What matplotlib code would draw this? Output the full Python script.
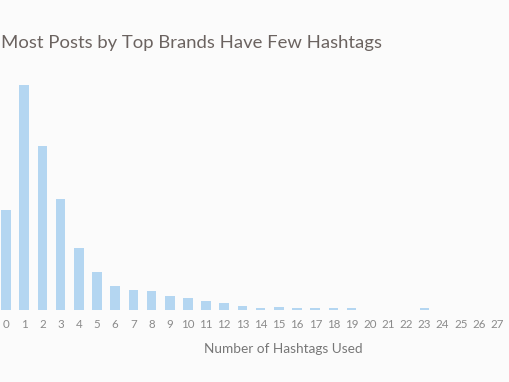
import matplotlib
matplotlib.use("Agg")
import matplotlib.pyplot as plt

# number of hashtags per post (0..27) and how many posts used that many
hashtags = list(range(28))
posts = [100, 225, 164, 111, 62, 38, 24, 20, 19, 14, 12, 9, 7, 4,
         2, 3.5, 2, 2, 2, 2, 0, 0, 0, 2, 0, 0, 0, 0]
tick_labels = [str(h) for h in hashtags]

title = "Most Posts by Top Brands Have Few Hashtags"
xlabel = "Number of Hashtags Used"

plt.rcParams['font.family'] = ['Lato', 'DejaVu Sans']

bg = "#fbfbfb"
fig = plt.figure(figsize=(5.1, 3.82), dpi=100, facecolor=bg)
ax = fig.add_axes([0.0, 0.188, 1.0, 0.654])
ax.set_facecolor(bg)

ax.bar(hashtags, posts, width=0.53, color="#b4d6f1", edgecolor="none")

ax.set_xlim(-0.33, 27.71)
ax.set_ylim(0, 250)
ax.set_xticks(hashtags)
ax.set_xticklabels(tick_labels)
ax.set_yticks([])
ax.tick_params(axis='x', length=0, pad=6, labelsize=8.3, labelcolor="#8a8a8a")
for s in ax.spines.values():
    s.set_visible(False)

fig.text(0.002, 0.887, title, fontsize=13.3, color="#6b6360",
         ha="left", va="center")
fig.text(0.555, 0.086, xlabel, fontsize=9.8, color="#777777",
         ha="center", va="center")

fig.savefig("out.png", dpi=100, facecolor=bg)
